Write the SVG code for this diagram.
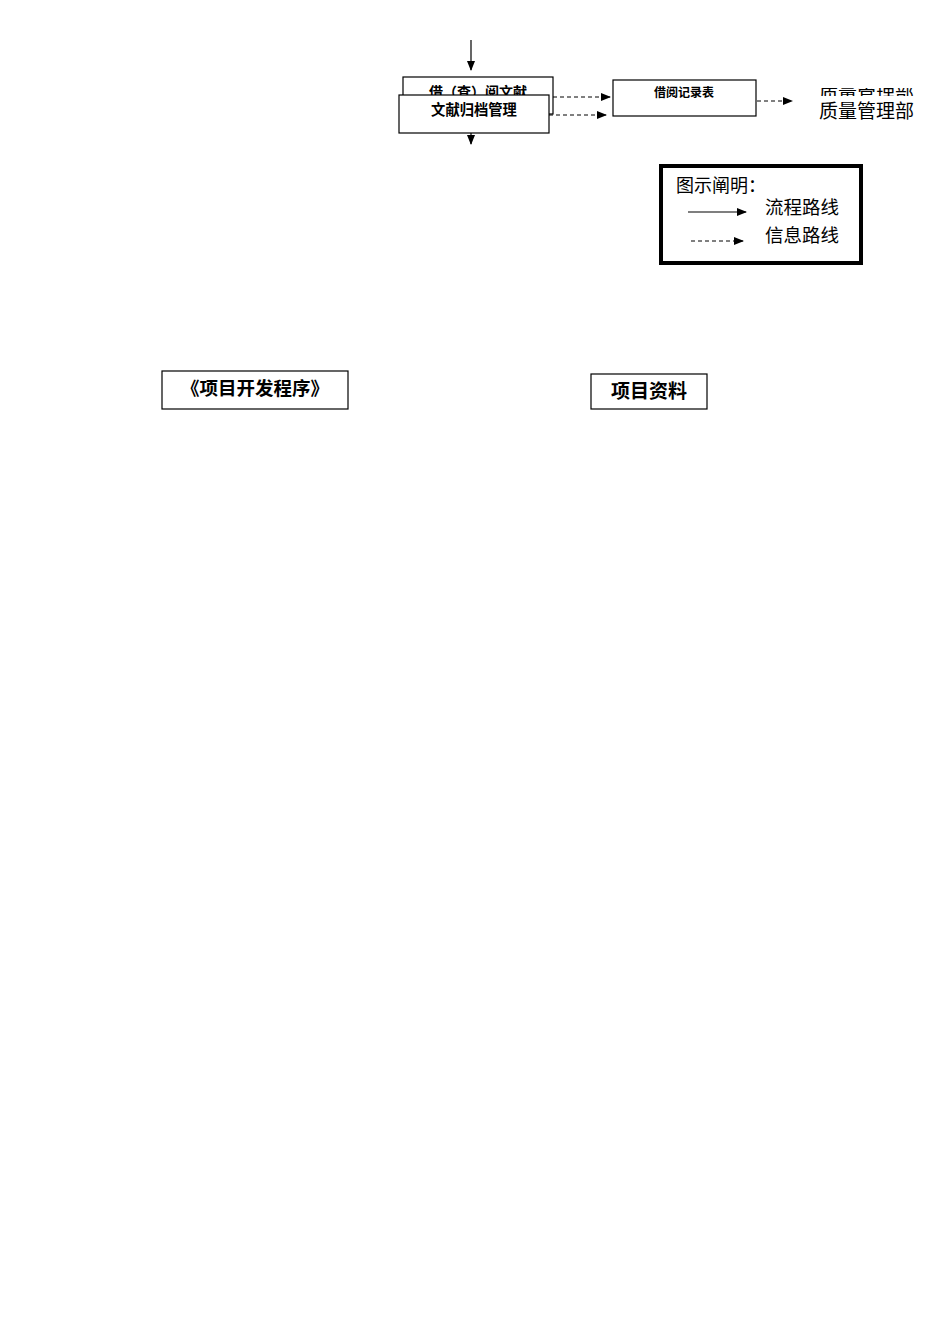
<svg xmlns="http://www.w3.org/2000/svg" width="950" height="1344" viewBox="0 0 950 1344">
<style>
.box{fill:#fff;stroke:#000;stroke-width:1.2}
.bt{font-family:"Liberation Sans","Noto Sans CJK SC",sans-serif;font-weight:bold;text-anchor:middle;fill:#000}
.st{font-family:"Liberation Serif","Noto Sans CJK SC",serif;fill:#000}
.flow{stroke:#000;stroke-width:1.2;fill:none}
.info{stroke:#000;stroke-width:1;fill:none;stroke-dasharray:4 3}
</style>
<defs>
<marker id="ah" markerWidth="10" markerHeight="8" refX="9" refY="4" orient="auto" markerUnits="userSpaceOnUse">
<path d="M0,0 L10,4 L0,8 Z" fill="#000"/>
</marker>
<marker id="ahv" markerWidth="8" markerHeight="10" refX="4" refY="9" orient="0" markerUnits="userSpaceOnUse">
<path d="M0,0 L8,0 L4,10 Z" fill="#000"/>
</marker>
<clipPath id="clipTop"><rect x="810" y="88" width="120" height="8"/></clipPath>
<clipPath id="clipBox1"><rect x="403" y="77" width="150" height="18"/></clipPath>
</defs>
<g id="connectors">
<line class="flow" x1="471" y1="40" x2="471" y2="70" marker-end="url(#ahv)"/>
<line class="flow" x1="471" y1="133" x2="471" y2="144" marker-end="url(#ahv)"/>
<line class="info" x1="553" y1="97" x2="610" y2="97" marker-end="url(#ah)"/>
<line class="info" x1="549" y1="115" x2="606" y2="115" marker-end="url(#ah)"/>
<line class="info" x1="757" y1="101" x2="792" y2="101" marker-end="url(#ah)"/>
</g>
<g id="node-borrow">
<rect class="box" x="403" y="77" width="150" height="37"/>
<text class="bt" x="478" y="97" font-size="14" clip-path="url(#clipBox1)">借（查）阅文献</text>
</g>
<g id="node-archive">
<rect class="box" x="399" y="95" width="150" height="38"/>
<text class="bt" x="474" y="114.5" font-size="14.3">文献归档管理</text>
</g>
<g id="node-record">
<rect class="box" x="613" y="80" width="143" height="36"/>
<text class="bt" x="684" y="97" font-size="12">借阅记录表</text>
</g>
<g id="node-quality">
<text class="st" x="819" y="100" font-size="19" clip-path="url(#clipTop)">质量管理部</text>
<text class="st" x="819" y="118" font-size="19">质量管理部</text>
</g>
<g id="legend">
<rect x="661" y="166" width="200" height="97" fill="#fff" stroke="#000" stroke-width="4"/>
<text class="st" x="676" y="191.5" font-size="18">图示阐明：</text>
<text class="st" x="765" y="213.5" font-size="18.5">流程路线</text>
<text class="st" x="765" y="241.5" font-size="18.5">信息路线</text>
<line class="flow" x1="688" y1="212" x2="746" y2="212" marker-end="url(#ah)"/>
<line class="info" x1="691" y1="241" x2="743" y2="241" marker-end="url(#ah)"/>
</g>
<g id="node-procedure">
<rect class="box" x="162" y="371" width="186" height="38"/>
<text class="bt" x="255" y="394.5" font-size="18.5">《项目开发程序》</text>
</g>
<g id="node-data">
<rect class="box" x="591" y="374" width="116" height="35"/>
<text class="bt" x="649" y="397.5" font-size="19">项目资料</text>
</g>
</svg>
